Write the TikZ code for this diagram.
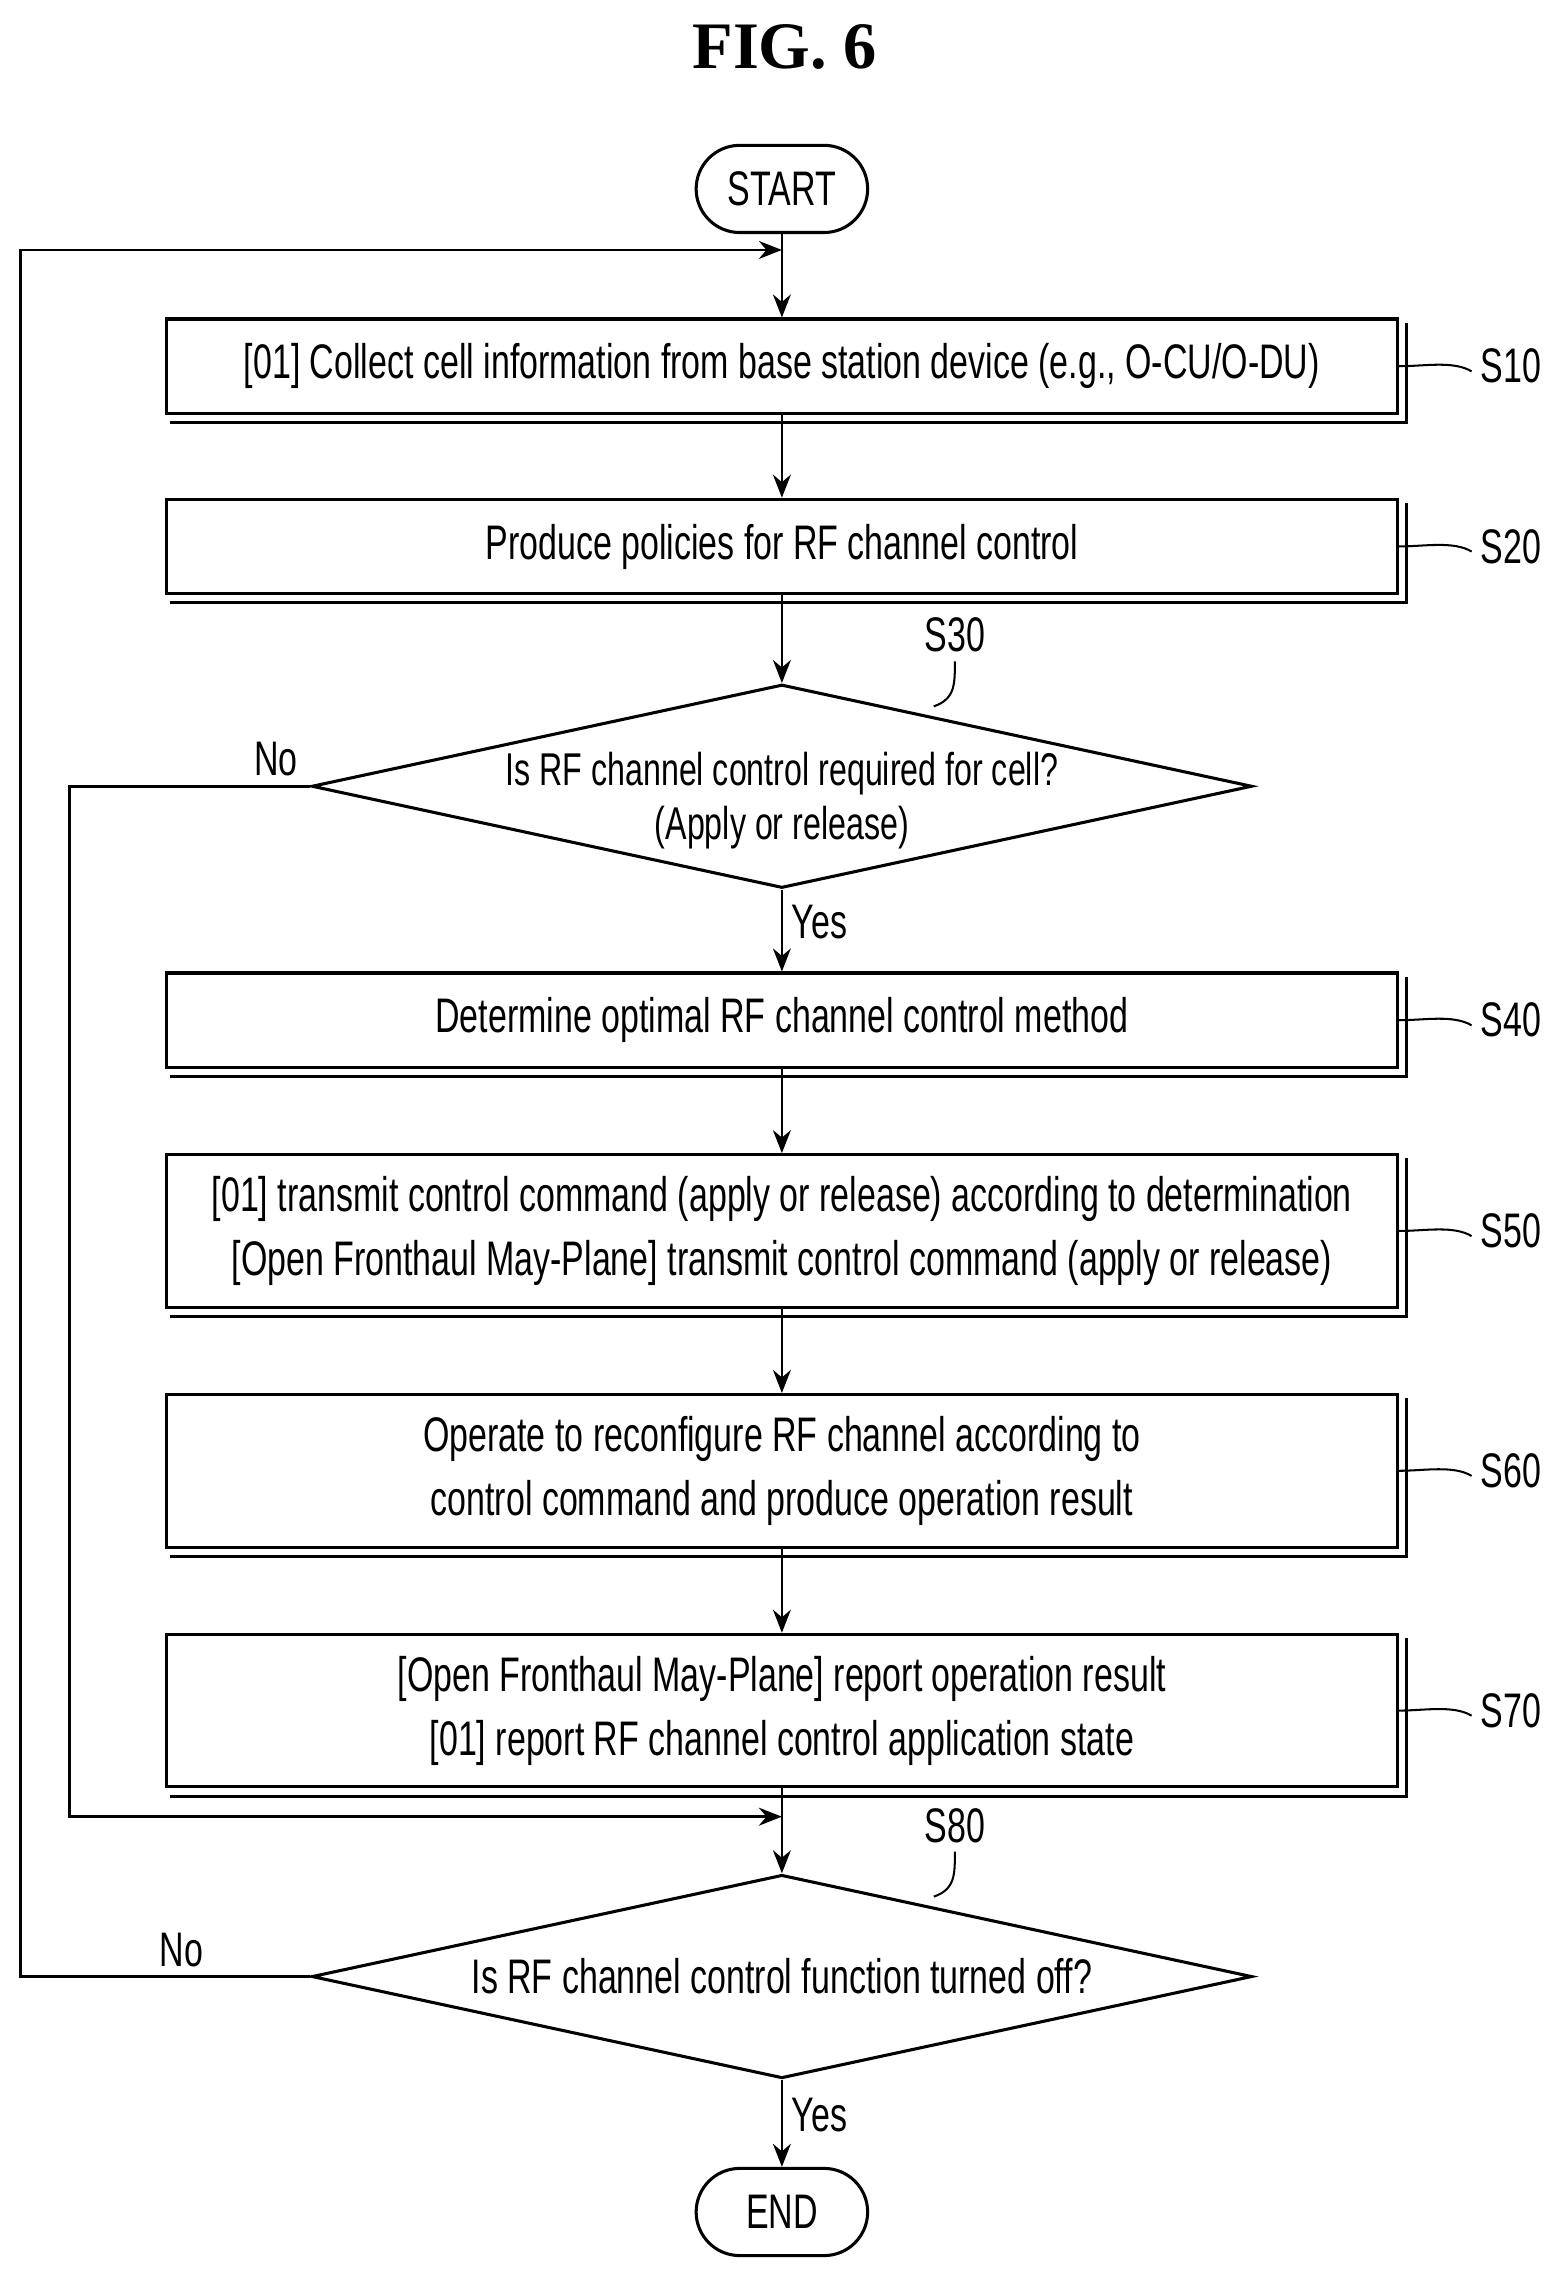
\documentclass[tikz,border=0pt]{standalone}
\usepackage{fontspec}
\setmainfont{Liberation Sans}[FakeStretch=0.7]
\newfontfamily\figfont{Liberation Serif}
\usetikzlibrary{shapes.geometric,arrows.meta}
\begin{document}
\begin{tikzpicture}[font=\fontsize{19}{25}\selectfont,
  box/.style={draw,line width=1.2pt,minimum width=16.94cm,align=center,inner sep=0pt},
  term/.style={draw,line width=1.2pt,rounded corners=0.6cm,minimum width=2.36cm,minimum height=1.2cm},
  dec/.style={draw,line width=1.2pt,diamond,aspect=4.62,minimum width=12.94cm,minimum height=2.8cm,inner sep=0pt},
  arr/.style={line width=1.1pt,-{Stealth[length=9pt,width=7pt]}},
  ln/.style={line width=1.1pt},
  lead/.style={line width=0.8pt}]
\useasboundingbox (0,0) rectangle (21.5,-31.5);
\node[font=\figfont\bfseries\fontsize{26}{30}\selectfont] (fig) at (10.8,-0.64) {FIG. 6};
\node[term] (st) at (10.76,-2.6) {START};
\node[box,minimum height=1.3cm] (s10) at (10.76,-5.04) {[01] Collect cell information from base station device (e.g., O-CU/O-DU)};
\node[box,minimum height=1.3cm] (s20) at (10.76,-7.52) {Produce policies for RF channel control};
\node[dec] (s30) at (10.76,-10.82) {};
\node[align=center,font=\fontsize{18}{21}\selectfont] (s30t) at ([yshift=-0.2cm]s30.center) {Is RF channel control required for cell?\\(Apply or release)};
\node[box,minimum height=1.3cm] (s40) at (10.76,-14.04) {Determine optimal RF channel control method};
\node[box,minimum height=2.1cm] (s50) at (10.76,-16.94) {[01] transmit control command (apply or release) according to determination\\{}[Open Fronthaul May-Plane] transmit control command (apply or release)};
\node[box,minimum height=2.1cm] (s60) at (10.76,-20.24) {Operate to reconfigure RF channel according to\\control command and produce operation result};
\node[box,minimum height=2.1cm] (s70) at (10.76,-23.54) {[Open Fronthaul May-Plane] report operation result\\{}[01] report RF channel control application state};
\node[dec] (s80) at (10.76,-27.2) {};
\node (s80t) at (s80) {Is RF channel control function turned off?};
\node[term] (en) at (10.76,-30.44) {END};
% shadows
\foreach \n in {s10,s20,s40,s50,s60,s70}{
  \draw[line width=1.2pt] ([xshift=2pt,yshift=-3pt]\n.south west) -- ([xshift=3pt,yshift=-3pt]\n.south east) -- ([xshift=3pt,yshift=-2pt]\n.north east);}
% labels
\foreach \n/\t in {s10/S10,s20/S20,s40/S40,s50/S50,s60/S60,s70/S70}{
  \node[anchor=west] (\n l) at ([xshift=1cm]\n.east) {\t};
  \draw[lead] (\n.east) .. controls +(0.35,0) and +(-0.25,0.15) .. ([yshift=-2pt]\n l.west);}
\node (s30l) at (13.14,-8.74) {S30};
\draw[lead] (12.85,-9.72) .. controls +(0.3,0.1) and +(0,-0.3) .. (s30l.south);
\node (s80l) at (13.14,-25.12) {S80};
\draw[lead] (12.85,-26.1) .. controls +(0.3,0.1) and +(0,-0.3) .. (s80l.south);
\coordinate (m1) at (10.76,-3.44);
\coordinate (m2) at (10.76,-25.0);
\draw[ln] (st) -- (m1);
\draw[arr] (m1) -- (s10);
\draw[arr] (s10) -- (s20);
\draw[arr] (s20) -- (s30);
\draw[arr] (s30) -- node[right,pos=0.4] {Yes} (s40);
\draw[arr] (s40) -- (s50);
\draw[arr] (s50) -- (s60);
\draw[arr] (s60) -- (s70);
\draw[ln] (s70) -- (m2);
\draw[arr] (m2) -- (s80);
\draw[arr] (s80) -- node[right,pos=0.4] {Yes} (en);
\draw[arr] (s30.west) -- (0.96,-10.82) -- (0.96,-25.0) -- (m2);
\draw[arr] (s80.west) -- (0.28,-27.2) -- (0.28,-3.44) -- (m1);
\node at (3.8,-10.44) {No};
\node at (2.5,-26.84) {No};
\end{tikzpicture}
\end{document}
